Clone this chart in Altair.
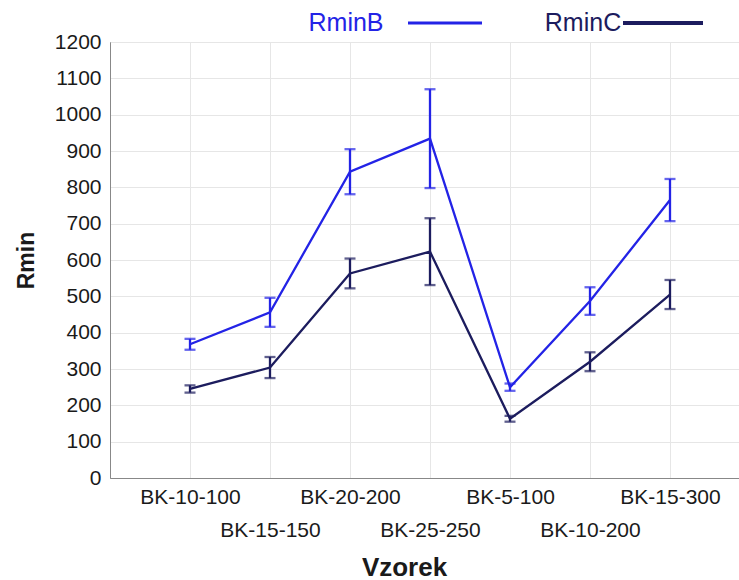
import altair as alt
import pandas as pd

samples = ["BK-10-100", "BK-15-150", "BK-20-200", "BK-25-250", "BK-5-100", "BK-10-200", "BK-15-300"]
rminB = [368, 456, 843, 934, 250, 487, 765]
rminB_err = [15, 40, 62, 136, 10, 38, 58]
rminC = [245, 304, 563, 623, 163, 320, 505]
rminC_err = [10, 29, 41, 92, 8, 26, 40]
y_ticks = [0, 100, 200, 300, 400, 500, 600, 700, 800, 900, 1000, 1100, 1200]

series_names = ["RminB", "RminC"]
colors = ["#2323e6", "#1c1c5e"]

rows = []
for name, vals, errs in [("RminB", rminB, rminB_err), ("RminC", rminC, rminC_err)]:
    for i, (s, v, e) in enumerate(zip(samples, vals, errs)):
        rows.append({"idx": i, "sample": s, "series": name, "value": v,
                     "lo": v - e, "hi": v + e})
df = pd.DataFrame(rows)

names_js = "[" + ",".join("'" + s + "'" for s in samples) + "]"
label_expr = f"datum.value % 2 == 0 ? {names_js}[datum.value] : [' ', {names_js}[datum.value]]"

FONT = "Liberation Sans"

x_scale = alt.Scale(domain=[-1, 6.8625], nice=False, zero=False)
x_axis = alt.Axis(values=list(range(len(samples))), tickCount=20, labelExpr=label_expr,
                  title="Vzorek", titleFontSize=26, titleFontWeight="bold",
                  titleX=294, titleY=97, titleBaseline="alphabetic",
                  labelFontSize=21, labelLineHeight=33, labelPadding=8,
                  tickSize=0, labelFont=FONT, titleFont=FONT,
                  labelColor="#1a1a1a", titleColor="#1a1a1a",
                  domainColor="#888888", gridColor="#e6e6e6", labelFlush=False,
                  labelOverlap=False)
y_scale = alt.Scale(domain=[0, 1200], nice=False)
y_axis = alt.Axis(values=y_ticks, tickCount=30, title="Rmin", format="d",
                  labelOverlap=False,
                  titleFontSize=23, titleFontWeight="bold", titlePadding=16,
                  labelFontSize=21, labelPadding=9, tickSize=0,
                  labelFont=FONT, titleFont=FONT,
                  labelColor="#1a1a1a", titleColor="#1a1a1a",
                  domainColor="#888888", gridColor="#e6e6e6")
color = alt.Color("series:N", scale=alt.Scale(domain=series_names, range=colors), legend=None)

def X():
    return alt.X("idx:Q", scale=x_scale, axis=x_axis)

def Y(field):
    return alt.Y(field, scale=y_scale, axis=y_axis, title="Rmin")

base = alt.Chart(df)
lines = base.mark_line(strokeWidth=2.3).encode(x=X(), y=Y("value:Q"), color=color, detail="series:N")
bars = base.mark_rule(strokeWidth=2.3).encode(
    x=X(), y=Y("lo:Q"), y2="hi:Q", color=color)
cap_lo = base.mark_tick(orient="horizontal", size=11, thickness=2.3).encode(
    x=X(), y=Y("lo:Q"), color=color)
cap_hi = base.mark_tick(orient="horizontal", size=11, thickness=2.3).encode(
    x=X(), y=Y("hi:Q"), color=color)

leg = pd.DataFrame({"series": series_names})
leg_color = alt.Color("series:N", scale=alt.Scale(domain=series_names, range=["#3030e0", "#3b3b6e"]), legend=None)
leg_text = alt.Chart(leg).mark_text(fontSize=25, font=FONT, align="center", baseline="middle").encode(
    text="series:N", x=alt.value(236), y=alt.value(-19), color=leg_color,
).transform_filter(alt.datum.series == "RminB")
leg_text2 = alt.Chart(leg).mark_text(fontSize=25, font=FONT, align="center", baseline="middle").encode(
    text="series:N", x=alt.value(473), y=alt.value(-19), color=leg_color,
).transform_filter(alt.datum.series == "RminC")
leg_line1 = alt.Chart(leg).mark_rule(strokeWidth=3, color=colors[0]).encode(
    x=alt.value(298), x2=alt.value(372), y=alt.value(-19)).transform_filter(alt.datum.series == "RminB")
leg_line2 = alt.Chart(leg).mark_rule(strokeWidth=4, color=colors[1]).encode(
    x=alt.value(513), x2=alt.value(593), y=alt.value(-19)).transform_filter(alt.datum.series == "RminC")

chart = alt.layer(lines, bars, cap_lo, cap_hi, leg_text, leg_text2, leg_line1, leg_line2).properties(
    width=629, height=436,
    autosize=alt.AutoSizeParams(type="none"),
    padding={"left": 110, "top": 42, "right": 0, "bottom": 102},
    background="white",
).configure_view(stroke="#888888", strokeWidth=1)

chart.save("out.html", embed_options={"renderer": "svg", "actions": False})
